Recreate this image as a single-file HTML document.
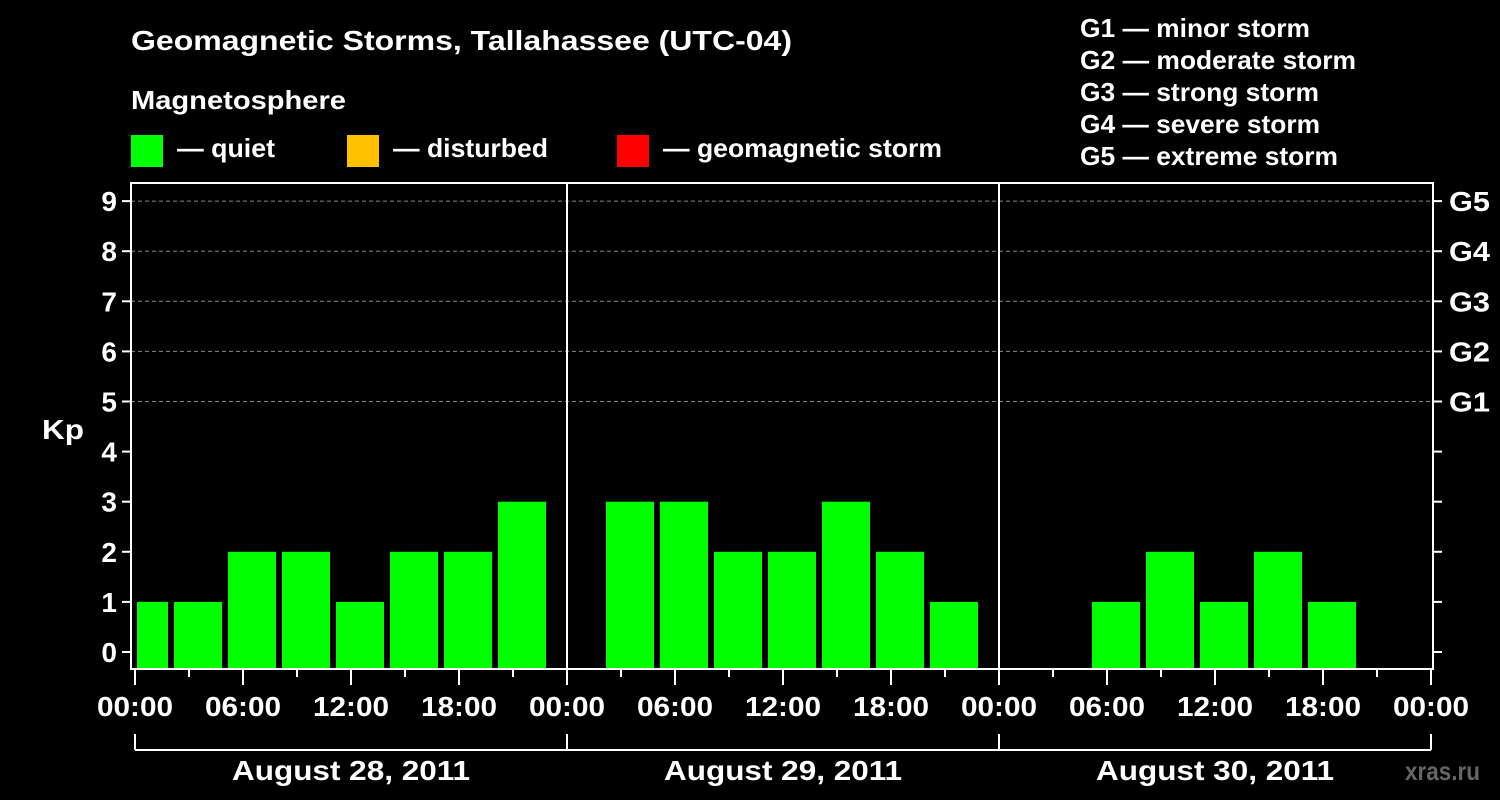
<!DOCTYPE html>
<html><head><meta charset="utf-8"><style>
html,body{margin:0;padding:0;background:#000;}
svg{display:block;font-family:"Liberation Sans",Arial,sans-serif;font-weight:bold;}
</style></head><body>
<svg id="chart" width="1500" height="800" viewBox="0 0 1500 800">
<text x="131" y="50" fill="#fff" font-size="28" textLength="661" lengthAdjust="spacingAndGlyphs">Geomagnetic Storms, Tallahassee (UTC-04)</text>
<text x="131" y="109" fill="#fff" font-size="26" textLength="215" lengthAdjust="spacingAndGlyphs">Magnetosphere</text>
<g><rect x="131" y="135" width="32" height="32" fill="#00ff00"/><text x="177" y="157" fill="#fff" font-size="26" textLength="98" lengthAdjust="spacingAndGlyphs">— quiet</text></g>
<g><rect x="347" y="135" width="32" height="32" fill="#ffc000"/><text x="393" y="157" fill="#fff" font-size="26" textLength="155" lengthAdjust="spacingAndGlyphs">— disturbed</text></g>
<g><rect x="617" y="135" width="32" height="32" fill="#ff0000"/><text x="663" y="157" fill="#fff" font-size="26" textLength="279" lengthAdjust="spacingAndGlyphs">— geomagnetic storm</text></g>
<g fill="#fff" font-size="26">
<text x="1080" y="37" textLength="230" lengthAdjust="spacingAndGlyphs">G1 — minor storm</text>
<text x="1080" y="69" textLength="276" lengthAdjust="spacingAndGlyphs">G2 — moderate storm</text>
<text x="1080" y="101" textLength="239" lengthAdjust="spacingAndGlyphs">G3 — strong storm</text>
<text x="1080" y="133" textLength="240" lengthAdjust="spacingAndGlyphs">G4 — severe storm</text>
<text x="1080" y="165" textLength="258" lengthAdjust="spacingAndGlyphs">G5 — extreme storm</text>
</g>
<text x="42" y="439" fill="#fff" font-size="28" textLength="42" lengthAdjust="spacingAndGlyphs">Kp</text>
<text x="1405" y="780" fill="#666" font-size="26" textLength="75" lengthAdjust="spacingAndGlyphs">xras.ru</text>
<g id="grid"></g>
<g id="bars"></g>
<g id="axes"></g>
</svg>
<script>
const days = ["August 28, 2011","August 29, 2011","August 30, 2011"];
const kp = [1,1,2,2,1,2,2,3, null,3,3,2,2,3,2,1, null,null,1,2,1,2,1,null];
const yTicks = [0,1,2,3,4,5,6,7,8,9];
const gLabels = {5:"G1",6:"G2",7:"G3",8:"G4",9:"G5"};
const timeLabels = ["00:00","06:00","12:00","18:00"];

const NS="http://www.w3.org/2000/svg";
const X0=135, DAYW=432, Y0=652, UNIT=50.1, FL=131, FR=1433, FT=183, FB=669;
const xH = h => X0 + h*DAYW/24;
const yK = v => Y0 - v*UNIT;
function mk(tag, attrs, parent, text){const e=document.createElementNS(NS,tag);for(const k in attrs)e.setAttribute(k,attrs[k]);if(text!==undefined)e.textContent=text;document.getElementById(parent).appendChild(e);return e;}

[5,6,7,8,9].forEach(v=>{
  const l=mk('line',{x1:FL,x2:FR,y1:yK(v),y2:yK(v),stroke:'#888','stroke-width':1,'stroke-dasharray':'4,3'},'grid');
  
  
});
kp.forEach((v,i)=>{
  if(v===null) return;
  const c = v>=5?'#ff0000':(v>=4?'#ffc000':'#00ff00');
  let x1 = xH(3*i-1)+3, x2 = xH(3*i+2)-3;
  x1 = Math.max(x1, FL+6);
  x2 = Math.min(x2, FR-2);
  const r=mk('rect',{x:x1,y:yK(v),width:x2-x1,height:FB-1-yK(v),fill:c},'bars');
  
  
});
const f=mk('rect',{x:FL,y:FT,width:FR-FL,height:FB-FT,fill:'none',stroke:'#fff','stroke-width':2},'axes');


for(let d=1; d<days.length; d++){
  const l=mk('line',{x1:xH(24*d),x2:xH(24*d),y1:FT,y2:FB,stroke:'#fff','stroke-width':2},'axes');
  
  
}
yTicks.forEach(v=>{
  const y=yK(v);
  mk('line',{x1:122,x2:FL,y1:y,y2:y,stroke:'#fff','stroke-width':2},'axes');
  mk('line',{x1:FR,x2:FR+9,y1:y,y2:y,stroke:'#fff','stroke-width':2},'axes');
  const t=mk('text',{x:117,y:y+10,fill:'#fff','font-size':28,'text-anchor':'end'},'axes',String(v));
  
  
  if(gLabels[v]){
    const g=mk('text',{x:1449,y:y+10,fill:'#fff','font-size':28,textLength:41,lengthAdjust:'spacingAndGlyphs'},'axes',gLabels[v]);
    
    
  }
});
for(let h=0; h<=24*days.length; h+=3){
  const x=xH(h), major=h%6===0;
  mk('line',{x1:x,x2:x,y1:FB,y2:major?685:677,stroke:'#fff','stroke-width':2},'axes');
  if(major){
    const t=mk('text',{x:x-38,y:716,fill:'#fff','font-size':28,textLength:76,lengthAdjust:'spacingAndGlyphs'},'axes',timeLabels[(h%24)/6]);
    
    
  }
}
mk('line',{x1:xH(0),x2:xH(24*days.length),y1:750,y2:750,stroke:'#fff','stroke-width':2},'axes');
for(let d=0; d<=days.length; d++) mk('line',{x1:xH(24*d),x2:xH(24*d),y1:734,y2:750,stroke:'#fff','stroke-width':2},'axes');
days.forEach((d,i)=>{
  const t=mk('text',{x:xH(24*i+12)-119,y:780,fill:'#fff','font-size':28,textLength:238,lengthAdjust:'spacingAndGlyphs'},'axes',d);
  
  
});
</script>
</body></html>
